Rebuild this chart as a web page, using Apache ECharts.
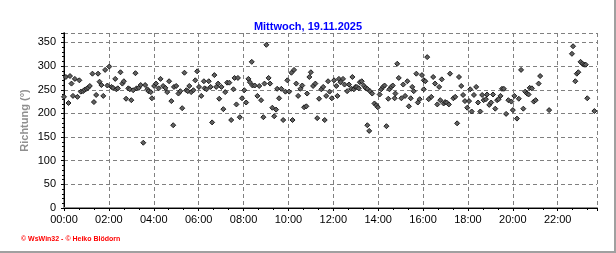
<!DOCTYPE html>
<html>
<head>
<meta charset="utf-8">
<script src="https://cdn.jsdelivr.net/npm/echarts@6/dist/echarts.min.js"></script>
<style>
html,body{margin:0;padding:0;background:#fff;}
#c{width:616px;height:253px;}
</style>
</head>
<body>
<div id="c"></div>
<script>
// Time of each reading, minutes after midnight
var times = [
  0,5,12,16,20,24,29,36,41,45,51,55,60,64,69,76,80,86,91,95,100,105,110,116,121,127,131,137,140,144,
  151,156,160,166,172,176,180,185,191,194,200,205,212,217,223,226,
  232,235,241,246,253,258,265,271,276,281,287,292,294,300,306,311,316,322,327,331,335,340,346,351,
  356,361,367,374,376,381,387,392,396,402,407,412,415,421,426,431,436,442,447,453,456,461,465,470,
  476,482,487,493,497,502,504,510,517,522,527,533,536,541,547,551,557,562,567,570,575,581,586,592,
  597,602,608,611,615,621,626,632,637,642,648,650,656,660,666,672,677,682,688,693,697,701,706,710,
  716,722,728,731,735,739,746,750,757,762,768,771,775,779,783,788,791,796,801,806,811,811,816,818,
  824,830,835,839,844,848,853,857,862,867,870,875,879,884,886,891,895,902,907,912,918,922,927,931,
  935,942,946,951,
  957,962,962,966,971,975,982,987,992,998,1003,1006,1010,1015,1019,1023,1029,1032,1041,1046,1051,
  1056,1062,1067,1072,1078,1083,1086,1090,1096,1102,1107,1113,1118,1122,1128,1131,1137,1142,1147,
  1153,1158,1162,1167,1171,1176,1182,1188,
  1196,1200,1204,1211,1216,1222,1228,1233,1238,1242,1245,1251,1256,1261,1269,1273,1297,1358,1361,
  1367,1371,1375,1381,1386,1391,1395,1399,1418
];
// Wind direction (degrees) at each time
var directions = [
  235,277,222,279,263,237,273,235,270,246,247,250,252,254,258,284,224,239,284,267,260,237,292,259,299,256,254,273,251,253,
  287,263,268,231,253,251,228,249,285,253,254,260,138,260,251,247,
  245,232,258,263,253,273,258,254,245,268,226,175,256,258,242,247,211,286,249,247,258,245,249,270,
  289,256,237,268,253,251,268,256,181,281,256,263,231,256,209,245,265,265,186,251,275,219,275,192,
  232,249,223,273,266,309,259,259,237,258,228,192,263,345,275,263,212,194,208,252,232,252,186,246,
  270,246,286,186,292,263,237,252,259,213,215,242,277,287,258,263,190,231,251,256,186,237,268,246,
  232,270,258,237,273,266,273,261,247,261,252,277,251,256,256,253,266,268,259,254,252,175,163,247,
  242,221,217,213,240,251,256,259,173,231,251,256,259,232,242,305,275,232,261,237,268,215,232,256,
  247,284,223,230,
  281,270,251,268,319,230,235,277,263,219,256,228,272,221,224,223,219,284,232,235,179,
  277,258,239,226,212,226,251,204,239,256,223,204,239,228,230,240,218,223,240,
  210,228,230,237,252,252,199,228,
  225,207,237,189,231,292,210,246,242,240,254,253,225,228,263,279,207,326,342,
  268,284,287,309,305,303,303,232,205
];
// Axis settings
var xMin = 0, xMax = 1425, xStep = 120;
var yMin = 0, yMax = 370, yStep = 50;
var titleText = 'Mittwoch, 19.11.2025';
var yName = 'Richtung (°)';
var footerText = '© WsWin32 - © Heiko Blödorn';

var points = times.map(function (t, i) { return [t, directions[i]]; });
function hhmm(v) {
  var h = Math.floor(v / 60), m = Math.round(v % 60);
  return (h < 10 ? '0' : '') + h + ':' + (m < 10 ? '0' : '') + m;
}

var chart = echarts.init(document.getElementById('c'), null, {renderer: 'canvas'});
var dashed = {show: true, lineStyle: {color: '#808080', type: [4, 3], width: 1}};
chart.setOption({
  animation: false,
  backgroundColor: '#fff',
  title: {
    text: titleText, left: 'center', top: 16,
    textStyle: {color: '#0000ff', fontFamily: 'Liberation Sans, Arial', fontWeight: 'bold', fontSize: 11}
  },
  grid: {left: 64, right: 19, top: 33, bottom: 45},
  xAxis: [{
    type: 'value', min: xMin, max: xMax, interval: xStep,
    axisLine: {show: true, lineStyle: {color: '#8c8c8c', width: 2}},
    axisTick: {show: true, length: 3, lineStyle: {color: '#000'}},
    minorTick: {show: true, splitNumber: 3, length: 2, lineStyle: {color: '#000'}},
    splitLine: dashed,
    axisLabel: {
      formatter: hhmm, showMaxLabel: false, margin: 6,
      color: '#000', fontFamily: 'Liberation Sans, Arial', fontSize: 11
    }
  }, {
    type: 'value', position: 'top', min: xMin, max: xMax,
    axisLine: {show: true, lineStyle: {color: '#000', width: 1}},
    axisTick: {show: false}, axisLabel: {show: false}, splitLine: {show: false}
  }],
  yAxis: [{
    type: 'value', min: yMin, max: yMax, interval: yStep, offset: 3,
    name: yName, nameLocation: 'middle', nameGap: 31, nameRotate: 90, nameMoveOverlap: false,
    nameTextStyle: {color: '#8f8f8f', fontFamily: 'Liberation Sans, Arial', fontWeight: 'bold', fontSize: 11},
    axisLine: {show: true, lineStyle: {color: '#8c8c8c', width: 2}},
    axisTick: {show: true, length: 3, lineStyle: {color: '#000'}},
    minorTick: {show: true, splitNumber: 5, length: 2, lineStyle: {color: '#000'}},
    splitLine: dashed,
    axisLabel: {
      showMaxLabel: false, margin: 5,
      color: '#000', fontFamily: 'Liberation Sans, Arial', fontSize: 11
    }
  }, {
    type: 'value', position: 'right', min: yMin, max: yMax,
    axisLine: {show: true, lineStyle: {color: '#000', width: 1}},
    axisTick: {show: false}, axisLabel: {show: false}, splitLine: {show: false}
  }],
  series: [{
    type: 'scatter', xAxisIndex: 0, yAxisIndex: 0,
    symbol: 'diamond', symbolSize: 5,
    itemStyle: {color: '#606060', borderColor: '#1e1e1e', borderWidth: 1, opacity: 1},
    data: points
  }],
  graphic: [
    {type: 'text', left: 21, top: 236,
     style: {text: footerText, fill: '#ff0000', font: 'bold 7px Liberation Sans, Arial'}},
    {type: 'rect', shape: {x: 614, y: 0, width: 2, height: 253}, style: {fill: '#a0a0a0'}},
    {type: 'rect', shape: {x: 0, y: 251, width: 616, height: 2}, style: {fill: '#a0a0a0'}}
  ]
});
</script>
</body>
</html>
